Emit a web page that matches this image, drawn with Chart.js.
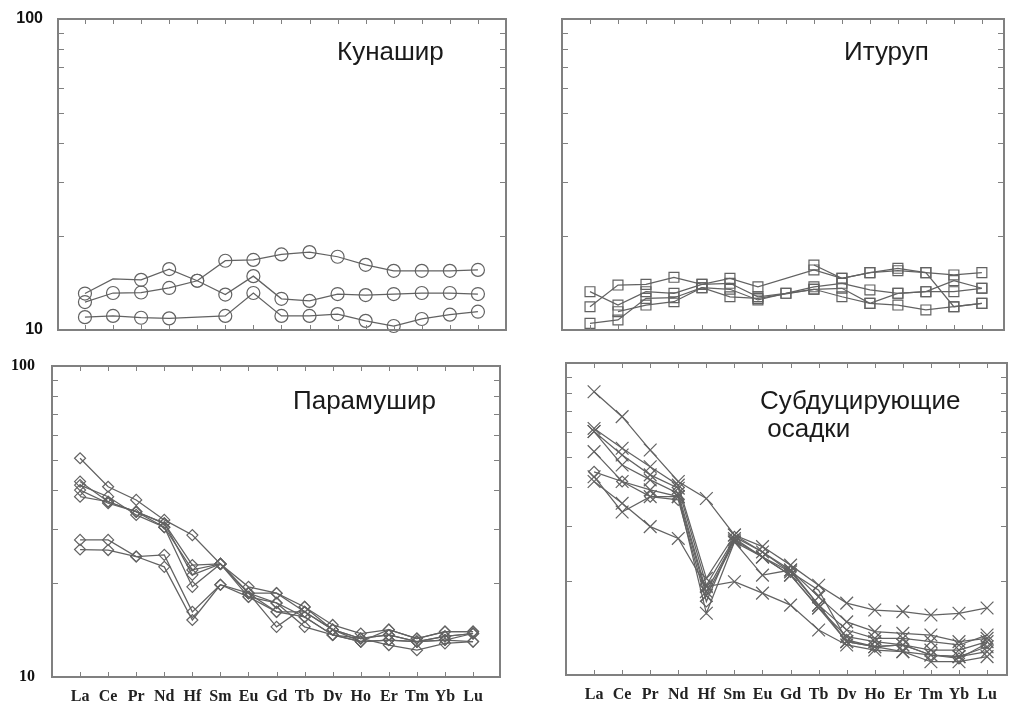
<!DOCTYPE html>
<html><head><meta charset="utf-8">
<script src="https://cdn.jsdelivr.net/npm/chart.js@4.4.1/dist/chart.umd.min.js"></script>
<style>
html,body{margin:0;padding:0;background:#fff;width:1009px;height:703px;overflow:hidden}
canvas{position:absolute;left:0;top:0}
.t{position:absolute;font-family:"Liberation Sans",Arial,sans-serif;font-size:26px;line-height:28px;color:#1a1a1a;white-space:nowrap}
</style></head><body>
<canvas id="c1" width="1009" height="703"></canvas>
<canvas id="c2" width="1009" height="703"></canvas>
<canvas id="c3" width="1009" height="703"></canvas>
<canvas id="c4" width="1009" height="703"></canvas>
<div class="t" style="left:337px;top:37px">Кунашир</div>
<div class="t" style="left:844px;top:37px">Итуруп</div>
<div class="t" style="left:293px;top:386px">Парамушир</div>
<div class="t" style="left:760px;top:386px">Субдуцирующие<br>&nbsp;осадки</div>
<script>
const elements = ['La','Ce','Pr','Nd','Hf','Sm','Eu','Gd','Tb','Dy','Ho','Er','Tm','Yb','Lu'];
const yTickValues = [10,20,30,40,50,60,70,80,90,100];
const yLabelValues = [10,100];

// Кунашир
const kunashir1 = [13.1, 14.6, 14.5, 15.7, 14.4, 13.0, 14.9, 12.6, 12.4, 13.05, 12.95, 13.05, 13.15, 13.15, 13.05];
const kunashir2 = [12.3, 13.15, 13.2, 13.65, 14.4, 16.7, 16.8, 17.5, 17.8, 17.2, 16.2, 15.5, 15.5, 15.5, 15.6];
const kunashir3 = [11.0, 11.1, 10.95, 10.9, null, 11.1, 13.15, 11.1, 11.1, 11.25, 10.7, 10.3, 10.85, 11.2, 11.45];

// Итуруп
const iturup1 = [11.88, 13.95, 14.02, 14.77, 14.02, 14.66, 13.77, null, 15.6, 14.66, 15.29, 15.51, 15.29, 15.03, 15.29];
const iturup2 = [13.28, 12.03, 13.28, 13.12, 14.02, 14.13, 12.79, 13.12, 13.77, 14.13, 13.45, 13.12, 13.28, 13.28, 13.62];
const iturup3 = [10.5, 10.77, 12.64, 12.7, 13.68, 13.52, 12.49, 13.12, 13.52, 13.62, 12.18, 12.03, 11.6, 11.88, 12.18];
const iturup4 = [null, 11.45, 12.03, 12.33, 13.68, 12.79, 12.64, null, 13.52, 12.79, 12.18, 13.12, 13.28, 14.41, 13.62];
const iturup5 = [null, null, null, null, null, null, null, null, 16.18, 14.66, 15.29, 15.79, 15.29, 11.88, 12.18];

// Парамушир
const paramushir1 = [50.5, 40.9, 37.1, 32.0, 28.6, 23.1, 19.5, 18.6, 16.8, 14.7, 13.8, 14.2, 13.3, 14.0, 14.0];
const paramushir2 = [42.5, 36.6, 34.0, 31.2, 22.9, 23.1, 18.6, 18.6, 16.2, 14.2, 13.3, 13.65, 13.0, 13.5, 13.8];
const paramushir3 = [41.4, 38.0, 33.2, 30.3, 22.1, 23.1, 18.1, 17.3, 15.6, 13.65, 13.0, 13.15, 13.0, 13.15, 13.8];
const paramushir4 = [39.9, 36.2, 34.0, 31.2, 21.3, 23.1, 18.6, 16.2, 16.2, 14.2, 13.3, 12.67, 12.2, 12.83, 13.0];
const paramushir5 = [38.0, 36.6, 34.0, 30.3, 19.5, 23.1, 18.6, 14.5, 16.8, 14.2, 13.0, 14.2, 13.3, 14.0, 14.0];
const paramushir6 = [27.6, 27.6, 24.4, 24.7, 16.2, 19.8, 18.6, 17.3, 14.5, 13.65, 13.3, 13.65, 13.0, 13.5, 13.8];
const paramushir7 = [25.7, 25.6, 24.4, 22.6, 15.25, 19.8, 18.1, 16.2, 15.6, 13.65, 13.0, 13.15, 13.0, 13.15, 13.0];

// Субдуцирующие осадки
const sediment1 = [80.9, 67.3, 52.6, 41.7, 36.8, 28.1, 25.8, 22.5, 19.4, 17.0, 16.15, 15.96, 15.57, 15.77, 16.4];
const sediment2 = [61.7, 53.3, 46.5, 40.6, 20.4, 28.1, 24.8, 21.7, 17.8, 14.8, 13.77, 13.6, 13.43, 12.79, 13.1];
const sediment3 = [60.3, 50.7, 43.8, 39.7, 19.4, 27.4, 23.9, 21.4, 16.75, 13.94, 13.1, 13.1, 12.79, 12.48, 13.43];
const sediment4 = [60.3, 47.1, 42.2, 38.2, 18.5, 27.1, 23.9, 20.9, 16.4, 13.27, 12.79, 12.48, 12.02, 12.02, 12.79];
const sediment5 = [52.0, 41.7, 39.2, 37.3, 18.0, 26.7, 20.9, 21.7, 16.75, 12.79, 12.32, 11.88, 11.59, 11.45, 12.32];
const sediment6 = [44.8, 41.7, 37.3, 36.4, 17.2, 27.7, 24.8, 21.4, 18.7, 12.95, 12.32, 12.48, 11.59, 11.3, 12.64];
const sediment7 = [43.2, 33.3, 37.3, 37.3, 15.77, 26.7, 23.9, 20.9, 16.4, 12.79, 12.32, 12.48, 11.59, 11.45, 11.88];
const sediment8 = [41.7, 35.5, 29.9, 27.4, 19.2, 19.9, 18.3, 16.75, 13.94, 12.48, 12.02, 11.88, 11.03, 11.03, 11.45];

const LINE = '#626262';
const FRAME = '#808080';

function pts(arr){ return arr.map((v,i)=>({x:i,y:v})).filter(p=>p.y!==null); }

function ds(arr, style, r, extra){
  return Object.assign({
    data: pts(arr), borderColor: LINE, borderWidth: 1.25, tension: 0,
    pointStyle: style, pointRadius: r, pointHoverRadius: r,
    pointBorderColor: LINE, pointBorderWidth: 1.2,
    pointBackgroundColor: 'rgba(0,0,0,0)', spanGaps: true, clip: false
  }, extra || {});
}

const frameTicks = {
  id: 'frameTicks',
  afterDraw(chart){
    const {ctx, chartArea:{left,right,top,bottom}, scales:{x,y}} = chart;
    ctx.save();
    ctx.strokeStyle = FRAME; ctx.lineWidth = 1;
    ctx.beginPath();
    elements.forEach((e,i)=>{
      const px = Math.round(x.getPixelForValue(i)) + 0.5;
      ctx.moveTo(px, bottom); ctx.lineTo(px, bottom-5);
      ctx.moveTo(px, top); ctx.lineTo(px, top+5);
    });
    yTickValues.slice(1,-1).forEach(v=>{
      const py = Math.round(y.getPixelForValue(v)) + 0.5;
      ctx.moveTo(left, py); ctx.lineTo(left+6, py);
      ctx.moveTo(right, py); ctx.lineTo(right-6, py);
    });
    ctx.stroke();
    ctx.lineWidth = 2;
    ctx.strokeRect(left, top, right-left, bottom-top);
    ctx.restore();
  }
};

const W = 1009, H = 703;

function makeChart(id, datasets, cfg){
  const a = cfg.area;
  const pad = {left: a.left - 50, top: a.top, right: W - a.right, bottom: H - a.bottom - 24};
  const chart = new Chart(document.getElementById(id), {
    type: 'line',
    data: { datasets },
    plugins: [frameTicks],
    options: {
      responsive: false, animation: false, events: [],
      layout: { padding: pad, autoPadding: false },
      plugins: { legend: {display:false}, tooltip: {enabled:false}, title:{display:false} },
      scales: {
        x: {
          type: 'linear', min: cfg.xmin, max: cfg.xmax,
          grid: { display: false, drawTicks: false }, border: { display: false },
          afterBuildTicks: s => { s.ticks = elements.map((e,i)=>({value:i})); },
          afterFit: s => { s.height = 24; s.paddingLeft = 0; s.paddingRight = 0; },
          ticks: {
            autoSkip: false, maxRotation: 0, padding: 10,
            color: '#222', font: { family: '"Liberation Serif", "Times New Roman", serif', size: 16, weight: 'bold' },
            callback: v => cfg.xLabels ? (elements[v] ?? '') : ''
          }
        },
        y: {
          type: 'logarithmic', min: 10, max: 100,
          grid: { display: false, drawTicks: false }, border: { display: false },
          afterBuildTicks: s => { s.ticks = yTickValues.map(v=>({value:v})); },
          afterFit: s => { s.width = 50; s.paddingTop = 0; s.paddingBottom = 0; },
          ticks: {
            autoSkip: false, padding: cfg.yPad,
            color: '#111', font: { family: cfg.yFont, size: 16, weight: 'bold' },
            callback: v => (cfg.yLabels && yLabelValues.includes(v)) ? String(v) : ''
          }
        }
      }
    }
  });
  for (let k = 0; k < 2; k++) {
    const ca = chart.chartArea;
    const d = [a.left - ca.left, a.top - ca.top, a.right - ca.right, a.bottom - ca.bottom];
    if (d.every(v => Math.abs(v) < 0.5)) break;
    pad.left += d[0]; pad.top += d[1]; pad.right -= d[2]; pad.bottom -= d[3];
    chart.update('none');
  }
  return chart;
}

const SANS = '"Liberation Sans", Arial, sans-serif';
const SERIF = '"Liberation Serif", "Times New Roman", serif';

const kun = [kunashir1, kunashir2, kunashir3].map(a=>ds(a,'circle',6.5));
kun[0].pointRadius = kunashir1.map((v,i)=> i===1 ? 0 : 6.5);
makeChart('c1', kun, {area:{left:58,top:19,right:506,bottom:330}, xmin:-0.96, xmax:15.0, xLabels:false, yLabels:true, yPad:15, yFont:SANS});

makeChart('c2', [iturup1, iturup2, iturup3, iturup4, iturup5].map(a=>ds(a,'rect',7)),
  {area:{left:562,top:19,right:1004,bottom:330}, xmin:-1, xmax:14.79, xLabels:false, yLabels:false, yPad:15, yFont:SANS});

makeChart('c3', [paramushir1, paramushir2, paramushir3, paramushir4, paramushir5, paramushir6, paramushir7].map(a=>ds(a,'rectRot',5.5)),
  {area:{left:52,top:366,right:500,bottom:677}, xmin:-1, xmax:14.96, xLabels:true, yLabels:true, yPad:17, yFont:SERIF});

const sed = [sediment1, sediment2, sediment3, sediment4, sediment5, sediment6, sediment7, sediment8].map(a=>ds(a,'crossRot',9));
sed[5] = ds(sediment6, 'rectRot', 5.5);
makeChart('c4', sed,
  {area:{left:566,top:363,right:1007,bottom:675}, xmin:-1, xmax:14.71, xLabels:true, yLabels:false, yPad:15, yFont:SERIF});
</script>
</body></html>
